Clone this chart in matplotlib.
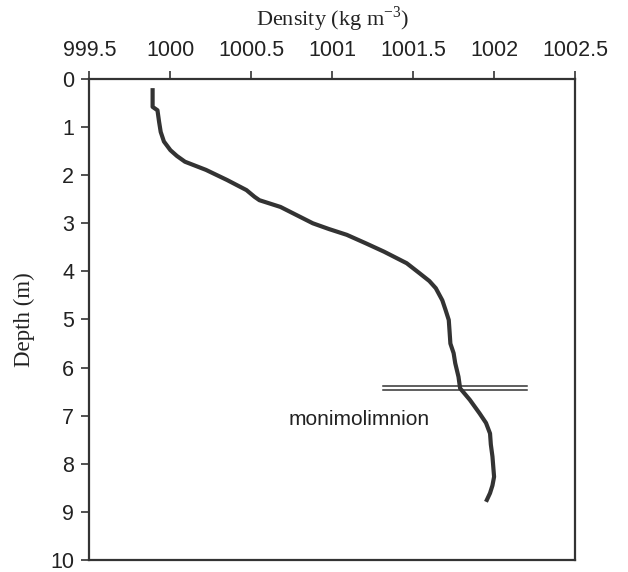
import numpy as np
import matplotlib.pyplot as plt

# density profile
depth = [0.19, 0.40, 0.58, 0.65, 0.89, 1.10, 1.30, 1.48, 1.60, 1.72, 1.89, 2.10,
         2.31, 2.45, 2.52, 2.66, 2.83, 3.00, 3.12, 3.24, 3.42, 3.59, 3.83, 4.04,
         4.20, 4.35, 4.60, 4.80, 5.01, 5.25, 5.50, 5.70, 5.91, 6.19, 6.43, 6.67,
         6.95, 7.15, 7.37, 7.60, 7.85, 8.27, 8.45, 8.61, 8.79]
density = [999.89, 999.89, 999.89, 999.92, 999.93, 999.94, 999.96, 1000.00, 1000.04,
           1000.09, 1000.22, 1000.35, 1000.47, 1000.52, 1000.55, 1000.68, 1000.78,
           1000.88, 1000.98, 1001.09, 1001.21, 1001.32, 1001.46, 1001.54, 1001.60,
           1001.64, 1001.68, 1001.70, 1001.72, 1001.725, 1001.73, 1001.75, 1001.76,
           1001.78, 1001.79, 1001.85, 1001.91, 1001.95, 1001.975, 1001.98, 1001.99,
           1002.00, 1001.99, 1001.975, 1001.95]

# monimolimnion boundary (double line)
boundary_depths = [6.38, 6.47]
boundary_x = [1001.316, 1002.206]

xticks = [999.5, 1000, 1000.5, 1001, 1001.5, 1002, 1002.5]
xtick_labels = ['999.5', '1000', '1000.5', '1001', '1001.5', '1002', '1002.5']
yticks = list(range(0, 11))

fig = plt.figure(figsize=(6.28, 5.72), dpi=100)
ax = fig.add_axes([0.1425, 0.021, 0.7731, 0.8409])

ax.plot(density, depth, color='#333333', lw=3.0, solid_capstyle='butt')
for yb in boundary_depths:
    ax.plot(boundary_x, [yb, yb], color='#333333', lw=1.1)

ax.text(1001.165, 7.08, 'monimolimnion', ha='center', va='center',
        fontsize=15, family='Liberation Sans', color='#222222')

ax.set_xlim(999.5, 1002.5)
ax.set_ylim(10, 0)
ax.xaxis.tick_top()
ax.set_xticks(xticks)
ax.set_xticklabels(xtick_labels)
ax.set_yticks(yticks)
ax.tick_params(axis='both', direction='out', length=6, width=1.2, color='#333333',
               labelsize=15.5, labelcolor='#222222')
ax.tick_params(axis='x', pad=7)
ax.tick_params(axis='y', pad=5)
for lbl in ax.get_xticklabels() + ax.get_yticklabels():
    lbl.set_family('Liberation Sans')

for s in ax.spines.values():
    s.set_linewidth(1.6)
    s.set_color('#333333')

ax.set_xlabel('Density (kg m$^{\\mathregular{-3}}$)', family='Liberation Serif',
              fontsize=16, va='center', color='#222222')
ax.xaxis.set_label_position('top')
ax.xaxis.set_label_coords(0.5, 1.11)
ax.set_ylabel('Depth (m)', family='Liberation Serif', fontsize=16.5, va='center',
              color='#222222')
ax.yaxis.set_label_coords(-0.135, 0.5)

fig.savefig('out.png', dpi=100)
